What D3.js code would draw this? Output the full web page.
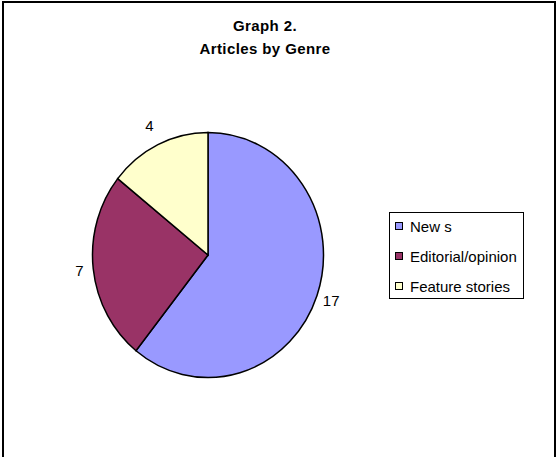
<!DOCTYPE html>
<html><head><meta charset="utf-8">
<script src="https://cdn.jsdelivr.net/npm/d3@7"></script>
<style>body{margin:0;background:#fff}svg{display:block}text{font-family:"Liberation Sans",Arial,sans-serif}</style>
</head><body>
<script>
const categories = ["New s", "Editorial/opinion", "Feature stories"];
const values = [17, 7, 4];
const colors = ["#9999FF", "#993366", "#FFFFCC"];
const titleLines = ["Graph 2.", "Articles by Genre"];

const W = 557, H = 457;
const svg = d3.select("body").append("svg").attr("width", W).attr("height", H);
svg.append("rect").attr("width", W).attr("height", H).attr("fill", "#fff");
svg.append("rect").attr("x", 3).attr("y", 2).attr("width", 552).attr("height", 480)
  .attr("fill", "none").attr("stroke", "#000").attr("stroke-width", 2);

svg.selectAll("text.title").data(titleLines).join("text").attr("class", "title")
  .attr("x", 265).attr("y", (d, i) => 31 + i * 23).attr("text-anchor", "middle")
  .attr("font-size", 15).attr("letter-spacing", 0.4).attr("font-weight", "bold").text(d => d);

const cx = 208, cy = 255, ry = 122.5, rx = 115.5;
const pie = d3.pie().sort(null).value(d => d);
const arcs = pie(values);
const arc = d3.arc().innerRadius(0).outerRadius(ry);
const g = svg.append("g").attr("transform", `translate(${cx},${cy}) scale(${rx / ry},1)`);
g.selectAll("path").data(arcs).join("path")
  .attr("d", arc).attr("fill", (d, i) => colors[i])
  .attr("stroke", "#000").attr("stroke-width", 1.5).attr("vector-effect", "non-scaling-stroke");

const labelF = [1.13, 1.12, 1.17];
svg.selectAll("text.lbl").data(arcs).join("text").attr("class", "lbl")
  .attr("x", (d, i) => cx + Math.sin((d.startAngle + d.endAngle) / 2) * rx * labelF[i])
  .attr("y", (d, i) => cy - Math.cos((d.startAngle + d.endAngle) / 2) * ry * labelF[i])
  .attr("text-anchor", "middle").attr("dominant-baseline", "central")
  .attr("font-size", 15).text(d => d.value);

const lg = svg.append("g");
lg.append("rect").attr("x", 389.5).attr("y", 212.5).attr("width", 134).attr("height", 86)
  .attr("fill", "#fff").attr("stroke", "#000").attr("stroke-width", 1);
const rows = lg.selectAll("g.row").data(categories).join("g").attr("class", "row")
  .attr("transform", (d, i) => `translate(0,${226 + i * 30})`);
rows.append("rect").attr("x", 395.5).attr("y", -3.5).attr("width", 7).attr("height", 7)
  .attr("fill", (d, i) => colors[i]).attr("stroke", "#000").attr("stroke-width", 1);
rows.append("text").attr("x", 410).attr("y", 0).attr("dominant-baseline", "central")
  .attr("font-size", 15).text(d => d);
</script>
</body></html>
